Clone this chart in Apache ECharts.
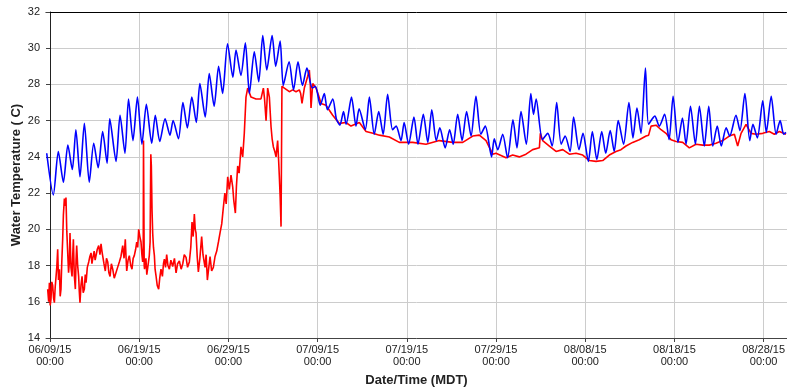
<!DOCTYPE html>
<html>
<head>
<meta charset="utf-8">
<script src="https://cdn.jsdelivr.net/npm/echarts@6/dist/echarts.min.js"></script>
<style>html,body{margin:0;padding:0;background:#fff}#c{width:787px;height:389px}</style>
</head>
<body>
<div id="c"></div>
<script>
// x values: days since 06/09/15 00:00 (MDT)
const tickDays = [0, 10, 20, 30, 40, 50, 60, 70, 80];
const tickLabels = ['06/09/15\n00:00', '06/19/15\n00:00', '06/29/15\n00:00', '07/09/15\n00:00', '07/19/15\n00:00',
  '07/29/15\n00:00', '08/08/15\n00:00', '08/18/15\n00:00', '08/28/15\n00:00'];
const yTicks = [14, 16, 18, 20, 22, 24, 26, 28, 30, 32];

// blue series [day, temperature C]
const blueSeries = [[-0.37,24.2],[0.37,21.9],[0.93,24.3],[1.5,22.6],[2.0,24.65],[2.5,23.3],[2.9,25.5],[3.36,22.9],[3.85,25.85],[4.4,22.6],[4.9,24.75],[5.4,23.4],[5.9,25.4],[6.4,23.65],[6.7,26.1],[7.4,23.75],[7.85,26.3],[8.4,24.2],[8.8,27.2],[9.3,24.9],[9.8,27.3],[10.3,24.7],[10.8,26.9],[11.4,24.75],[11.8,26.3],[12.3,24.85],[12.9,26.1],[13.45,25.2],[13.8,26.0],[14.4,25.0],[14.9,27.0],[15.4,25.6],[15.9,27.3],[16.4,25.9],[16.8,28.05],[17.4,26.2],[17.85,28.6],[18.4,26.8],[18.9,29.0],[19.35,27.5],[19.9,30.25],[20.5,28.4],[20.85,29.9],[21.4,28.5],[21.9,30.3],[22.35,27.5],[22.9,29.8],[23.4,28.15],[23.85,30.7],[24.3,28.8],[24.9,30.7],[25.3,29.0],[25.8,30.4],[26.15,27.95],[26.8,29.25],[27.3,27.7],[27.8,29.25],[28.3,27.95],[28.8,28.9],[29.4,27.8],[29.75,27.9],[30.3,26.85],[30.75,27.5],[31.1,26.6],[31.7,27.2],[32.1,26.1],[32.5,25.75],[32.9,26.5],[33.2,25.8],[33.8,27.3],[34.3,25.7],[34.65,26.65],[35.35,25.5],[35.8,27.3],[36.35,25.25],[36.85,26.5],[37.35,25.25],[37.85,27.45],[38.4,25.5],[38.8,25.7],[39.35,24.9],[39.7,25.9],[40.2,24.7],[40.8,26.2],[41.25,24.7],[41.85,26.35],[42.35,24.8],[42.8,26.6],[43.3,24.9],[43.7,25.6],[44.3,24.5],[44.8,25.5],[45.2,24.7],[45.7,26.35],[46.2,24.9],[46.7,26.5],[47.2,25.15],[47.75,27.35],[48.3,25.25],[48.8,25.7],[49.5,24.0],[49.8,25.0],[50.2,24.4],[50.75,25.25],[51.3,23.95],[51.9,26.05],[52.35,24.5],[52.8,26.5],[53.4,24.7],[53.9,27.5],[54.2,26.35],[54.5,27.2],[55.2,24.95],[55.8,25.3],[56.3,24.6],[56.8,27.0],[57.3,24.7],[57.75,25.15],[58.3,24.3],[58.7,26.2],[59.3,24.4],[59.75,25.3],[60.35,23.75],[60.8,25.4],[61.3,23.85],[61.85,25.4],[62.3,24.2],[62.8,25.45],[63.25,24.3],[63.7,26.0],[64.3,24.7],[64.9,27.0],[65.35,25.05],[65.8,26.7],[66.25,25.3],[66.75,28.9],[67.1,25.8],[67.8,26.25],[68.3,25.7],[68.9,26.35],[69.4,24.95],[69.85,27.35],[70.4,24.8],[70.9,26.15],[71.3,24.7],[71.8,26.8],[72.35,24.7],[72.8,26.8],[73.35,24.6],[73.85,26.8],[74.3,24.6],[74.8,25.7],[75.25,24.6],[75.8,25.6],[76.2,25.15],[76.9,26.3],[77.35,25.45],[77.9,27.5],[78.45,24.9],[78.8,25.8],[79.3,25.05],[79.9,27.1],[80.3,25.35],[80.85,27.35],[81.4,25.25],[81.85,26.0],[82.25,25.25],[82.5,25.35]];

// red series [day, temperature C]
const redSeries = [[-0.26,16.7],[-0.15,16.0],[-0.07,17.05],[0.02,15.8],[0.11,16.15],[0.2,17.1],[0.3,16.9],[0.4,16.2],[0.49,15.95],[0.58,16.8],[0.67,16.7],[0.76,17.9],[0.86,18.9],[0.95,17.2],[1.05,17.8],[1.14,16.3],[1.23,16.7],[1.32,18.2],[1.42,19.45],[1.5,20.8],[1.61,21.7],[1.7,21.3],[1.79,21.75],[1.88,19.9],[1.98,20.0],[2.08,17.6],[2.17,18.2],[2.24,19.8],[2.35,17.9],[2.47,17.4],[2.55,18.6],[2.62,19.45],[2.72,17.5],[2.84,16.7],[2.92,18.3],[2.99,19.1],[3.1,18.0],[3.21,17.4],[3.28,16.6],[3.36,15.95],[3.47,16.9],[3.59,17.4],[3.72,16.5],[3.85,16.7],[3.95,17.5],[4.04,17.05],[4.18,17.9],[4.34,18.2],[4.47,18.5],[4.6,18.7],[4.7,18.1],[4.78,18.35],[4.95,18.8],[5.06,18.3],[5.16,18.55],[5.3,18.9],[5.46,19.1],[5.6,18.6],[5.72,19.2],[5.82,18.8],[5.9,18.55],[6.05,18.1],[6.2,17.7],[6.33,18.4],[6.47,18.2],[6.6,17.6],[6.73,17.4],[6.88,18.1],[7.03,17.8],[7.2,17.3],[7.4,17.25],[7.58,17.9],[7.77,18.2],[7.95,18.5],[8.15,19.1],[8.3,18.4],[8.44,19.45],[8.52,18.5],[8.6,17.7],[8.75,18.3],[8.89,18.55],[9.05,18.0],[9.19,17.8],[9.32,18.4],[9.45,18.55],[9.6,18.9],[9.72,19.3],[9.83,19.0],[9.94,20.0],[10.07,19.6],[10.2,19.3],[10.3,18.6],[10.39,18.2],[10.45,19.0],[10.48,24.9],[10.53,24.9],[10.56,18.0],[10.6,17.8],[10.75,18.4],[10.85,17.5],[10.95,17.6],[11.04,18.2],[11.13,18.55],[11.22,19.3],[11.3,24.15],[11.36,23.5],[11.44,21.0],[11.51,19.8],[11.6,19.0],[11.7,18.55],[11.78,17.8],[11.88,17.45],[12.02,16.9],[12.18,16.7],[12.3,17.3],[12.44,17.8],[12.6,17.4],[12.72,18.1],[12.82,18.35],[12.95,17.9],[13.08,18.6],[13.22,18.0],[13.38,17.8],[13.55,18.3],[13.75,17.95],[13.95,18.4],[14.13,17.6],[14.3,18.1],[14.5,18.25],[14.7,17.8],[14.88,18.1],[15.05,18.6],[15.25,18.45],[15.42,17.9],[15.62,18.2],[15.78,19.0],[15.92,20.4],[16.05,19.6],[16.18,20.85],[16.28,20.0],[16.37,19.8],[16.5,18.5],[16.63,17.65],[16.8,18.4],[17.0,19.6],[17.15,18.6],[17.38,17.9],[17.5,18.6],[17.64,17.2],[17.8,17.9],[17.94,18.5],[18.12,17.7],[18.31,17.9],[18.5,18.5],[18.69,18.8],[18.88,19.3],[19.06,19.8],[19.25,20.3],[19.43,21.2],[19.6,22.0],[19.75,21.4],[19.92,22.9],[20.1,22.2],[20.29,23.0],[20.48,22.35],[20.6,21.6],[20.78,20.9],[20.9,22.4],[21.04,23.5],[21.2,23.1],[21.41,24.55],[21.6,24.0],[21.78,25.3],[21.97,27.3],[22.16,27.8],[22.53,27.3],[23.09,27.2],[23.65,27.2],[23.92,27.8],[24.05,27.2],[24.22,26.0],[24.4,27.8],[24.59,27.3],[24.78,25.65],[24.9,25.0],[25.04,24.55],[25.2,24.3],[25.34,24.0],[25.52,24.9],[25.62,23.9],[25.71,22.9],[25.8,21.8],[25.9,20.15],[26.0,27.9],[26.27,27.8],[26.83,27.6],[27.2,27.7],[27.58,27.6],[27.95,27.7],[28.1,27.5],[28.25,26.95],[28.51,27.8],[28.89,28.45],[29.07,28.8],[29.18,28.0],[29.26,26.7],[29.45,28.05],[29.82,27.8],[30.1,27.4],[30.38,26.95],[30.94,26.85],[31.69,26.3],[32.43,25.85],[33.18,25.9],[33.74,25.7],[34.68,25.9],[35.43,25.4],[36.2,25.3],[36.92,25.2],[38.04,25.1],[39.16,24.8],[40.66,24.8],[42.15,24.7],[43.64,24.9],[45.15,24.8],[46.27,24.8],[47.39,25.15],[48.13,25.2],[48.88,24.9],[49.63,24.15],[50.0,24.2],[51.12,23.95],[51.87,24.1],[52.61,24.0],[53.36,24.15],[54.11,24.4],[54.86,24.5],[54.97,25.3],[55.23,24.9],[55.98,24.6],[56.73,24.3],[57.48,24.4],[58.22,24.15],[58.97,24.2],[59.72,24.1],[60.46,23.8],[61.21,23.75],[61.96,23.8],[62.7,24.1],[63.45,24.3],[64.01,24.4],[64.57,24.6],[65.32,24.8],[66.06,24.95],[66.82,25.15],[67.11,25.2],[67.38,25.7],[67.94,25.75],[68.5,25.5],[69.06,25.3],[69.62,24.95],[70.18,24.85],[70.93,24.8],[71.67,24.5],[72.42,24.7],[73.17,24.65],[73.91,24.65],[74.66,24.75],[75.41,24.9],[76.15,25.15],[76.72,25.25],[77.09,24.6],[77.47,25.3],[78.03,25.8],[78.59,25.3],[79.15,25.25],[79.9,25.3],[80.64,25.4],[81.2,25.25],[81.76,25.4],[82.51,25.25]];

const FONT = "'Liberation Sans', Arial, sans-serif";
const chart = echarts.init(document.getElementById('c'), null, {renderer: 'canvas'});
chart.setOption({
  animation: false,
  backgroundColor: '#ffffff',
  grid: {left: 46, right: 0, top: 12, bottom: 51, containLabel: false, outerBoundsMode: 'none'},
  xAxis: [{
    type: 'value', min: -0.45, max: 82.62,
    name: 'Date/Time (MDT)', nameLocation: 'middle', nameGap: 36, nameMoveOverlap: false,
    nameTextStyle: {fontFamily: FONT, fontWeight: 'bold', fontSize: 13, color: '#222'},
    axisLine: {show: true, onZero: false, lineStyle: {color: '#444', width: 1}},
    axisTick: {show: true, length: 4, customValues: tickDays, lineStyle: {color: '#444'}},
    axisLabel: {customValues: tickDays, fontFamily: FONT, fontSize: 11, lineHeight: 12, margin: 6, color: '#222',
      formatter: v => { const i = tickDays.indexOf(Math.round(v)); return i >= 0 ? tickLabels[i] : ''; }},
    splitLine: {show: true, lineStyle: {color: '#cccccc', width: 1}}
  }, {
    type: 'value', position: 'top', min: -0.45, max: 82.62,
    axisLine: {show: true, onZero: false, lineStyle: {color: '#000', width: 1}},
    axisTick: {show: false}, axisLabel: {show: false}, splitLine: {show: false}
  }],
  yAxis: {
    type: 'value', min: yTicks[0], max: yTicks[yTicks.length - 1], interval: 2,
    name: 'Water Temperature ( C)', nameLocation: 'middle', nameGap: 23, nameRotate: 90, nameMoveOverlap: false,
    nameTextStyle: {fontFamily: FONT, fontWeight: 'bold', fontSize: 13, color: '#222'},
    axisLine: {show: true, lineStyle: {color: '#222', width: 1}},
    axisTick: {show: true, length: 4, lineStyle: {color: '#444'}},
    axisLabel: {fontFamily: FONT, fontSize: 11, margin: 6, color: '#222'},
    splitLine: {show: true, lineStyle: {color: '#cccccc', width: 1}}
  },
  series: [{
    type: 'line', data: redSeries, xAxisIndex: 0, showSymbol: false, symbol: 'none',
    lineStyle: {color: '#ff0000', width: 1.6}, z: 2
  }, {
    type: 'line', data: blueSeries, xAxisIndex: 0, showSymbol: false, symbol: 'none', smooth: 0.25,
    lineStyle: {color: '#0000ff', width: 1.6}, z: 3
  }]
});
</script>
</body>
</html>
